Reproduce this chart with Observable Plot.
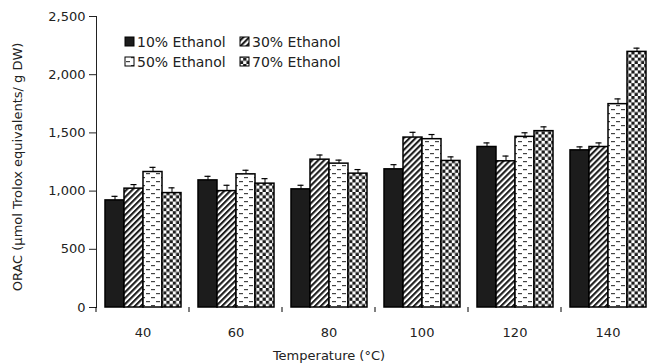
<!DOCTYPE html>
<html><head><meta charset="utf-8">
<script src="https://cdn.jsdelivr.net/npm/d3@7"></script>
<script src="https://cdn.jsdelivr.net/npm/@observablehq/plot@0.6"></script>
<style>body{margin:0;background:#fff}</style>
</head><body><div id="chart"></div>
<script>
const temps = [40, 60, 80, 100, 120, 140];
const series = ["10% Ethanol", "30% Ethanol", "50% Ethanol", "70% Ethanol"];
const orac10 = [920, 1092, 1015, 1187, 1379, 1350];
const orac30 = [1021, 1000, 1270, 1460, 1256, 1379];
const orac50 = [1164, 1144, 1236, 1446, 1466, 1747];
const orac70 = [983, 1064, 1150, 1259, 1515, 2196];
const err10 = [35, 35, 35, 40, 35, 30];
const err30 = [35, 50, 40, 45, 45, 35];
const err50 = [40, 35, 30, 40, 35, 45];
const err70 = [45, 43, 35, 35, 37, 32];
const yTicks = [0, 500, 1000, 1500, 2000, 2500];
const yLabel = "ORAC (µmol Trolox equivalents/ g DW)";
const xLabel = "Temperature (°C)";

const values = [orac10, orac30, orac50, orac70];
const errs = [err10, err30, err50, err70];
const data = [];
series.forEach((s, i) => temps.forEach((t, j) =>
  data.push({temp: t, series: s, value: values[i][j], err: errs[i][j]})));

const fills = ["#1c1c1c", "url(#p30)", "url(#p50)", "url(#p70)"];

const chart = Plot.plot({
  width: 650, height: 364,
  marginLeft: 96, marginRight: 0, marginTop: 16, marginBottom: 57,
  style: {fontFamily: "DejaVu Sans, sans-serif", fontSize: "13px", color: "#222", background: "#fff"},
  fx: {domain: temps, range: [96, 654], padding: 0, axis: "bottom", tickSize: 0, tickPadding: 20, label: null, line: true},
  x: {domain: series, paddingInner: 0, paddingOuter: 0.35, axis: null},
  y: {domain: [0, 2500], ticks: yTicks, tickFormat: d3.format(","), tickSize: 7, tickPadding: 4, line: true, label: null},
  color: {domain: series, range: fills},
  marks: [
    Plot.ruleX(data, {fx: "temp", x: "series", y1: "value", y2: d => d.value + d.err, stroke: "#000", strokeWidth: 1}),
    Plot.barY(data, {fx: "temp", x: "series", y: "value", fill: "series", stroke: "#000", strokeWidth: 1.5}),
    Plot.tickY(data, {fx: "temp", x: "series", y: d => d.value + d.err, stroke: "#000", strokeWidth: 1.2, insetLeft: 6.5, insetRight: 6.5})
  ]
});

const svg = d3.select(chart);
const defs = svg.insert("defs", ":first-child");
const p30 = defs.append("pattern").attr("id", "p30").attr("patternUnits", "userSpaceOnUse")
  .attr("width", 4.2).attr("height", 4.2).attr("patternTransform", "rotate(45)");
p30.append("rect").attr("width", 4.2).attr("height", 4.2).attr("fill", "#fff");
p30.append("rect").attr("width", 2.1).attr("height", 4.2).attr("fill", "#1c1c1c");
const p50 = defs.append("pattern").attr("id", "p50").attr("patternUnits", "userSpaceOnUse")
  .attr("width", 10).attr("height", 8);
p50.append("rect").attr("width", 10).attr("height", 8).attr("fill", "#fff");
p50.append("rect").attr("x", 1).attr("y", 1).attr("width", 4).attr("height", 1.2).attr("fill", "#444");
p50.append("rect").attr("x", 6).attr("y", 5).attr("width", 4).attr("height", 1.2).attr("fill", "#444");
const p70 = defs.append("pattern").attr("id", "p70").attr("patternUnits", "userSpaceOnUse")
  .attr("width", 6.4).attr("height", 6.4);
p70.append("rect").attr("width", 6.4).attr("height", 6.4).attr("fill", "#fff");
p70.append("rect").attr("width", 3.2).attr("height", 3.2).attr("fill", "#1c1c1c");
p70.append("rect").attr("x", 3.2).attr("y", 3.2).attr("width", 3.2).attr("height", 3.2).attr("fill", "#1c1c1c");

// boundary ticks on the temperature axis
const fxS = chart.scale("fx");
const yS = chart.scale("y");
const y0 = yS.apply(0);
const step = (fxS.range[1] - fxS.range[0]) / fxS.domain.length;
const bounds = temps.map(t => fxS.apply(t)).concat([fxS.apply(temps[temps.length - 1]) + step]);
svg.append("g").selectAll("line").data(bounds).join("line")
  .attr("x1", d => d).attr("x2", d => d).attr("y1", y0).attr("y2", y0 + 5)
  .attr("stroke", "#000").attr("stroke-width", 1);

// axis titles
svg.append("text").attr("x", 329).attr("y", 360).attr("text-anchor", "middle")
  .attr("fill", "#222").text(xLabel);
svg.append("text").attr("transform", "translate(22,167) rotate(-90)").attr("text-anchor", "middle")
  .attr("fill", "#222").text(yLabel);

// legend
const legendPos = [[125, 37], [240, 37], [125, 57], [240, 57]];
const leg = svg.append("g").attr("fill", "#222").attr("text-anchor", "start").style("font-size", "14px");
series.forEach((s, i) => {
  const [lx, ly] = legendPos[i];
  leg.append("rect").attr("x", lx).attr("y", ly).attr("width", 9).attr("height", 9)
    .attr("fill", fills[i]).attr("stroke", "#000").attr("stroke-width", 1);
  leg.append("text").attr("x", lx + 12).attr("y", ly + 10).attr("text-anchor", "start").text(s);
});

document.getElementById("chart").appendChild(chart);
</script>
</body></html>
